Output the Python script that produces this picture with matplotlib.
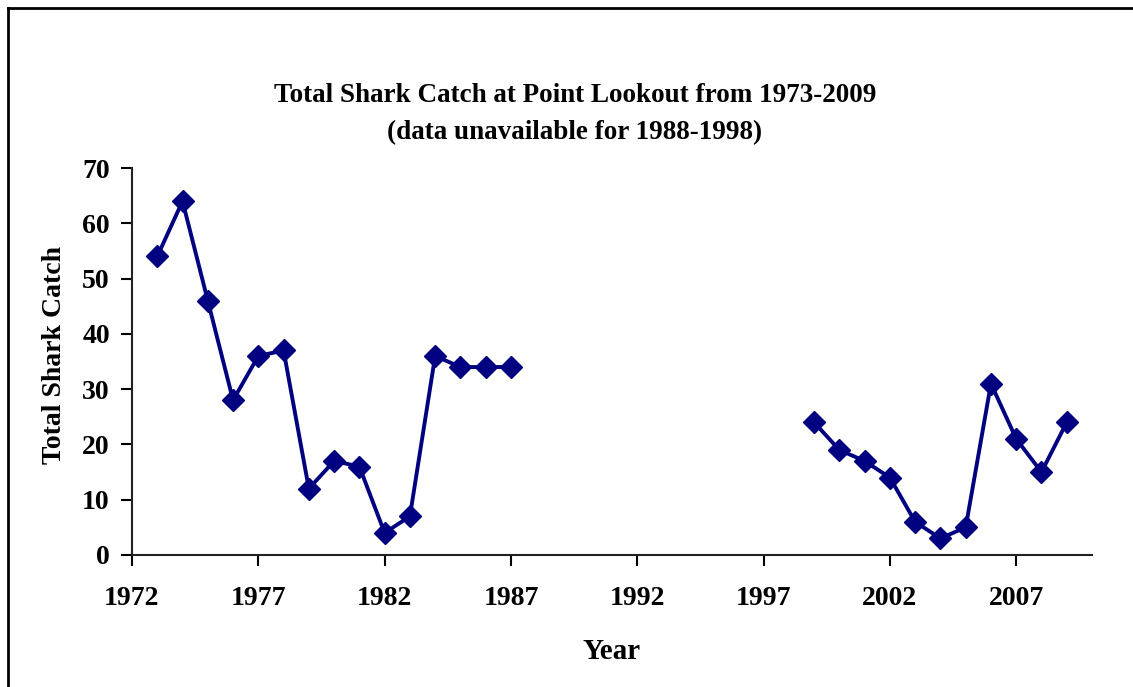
import matplotlib
matplotlib.use("Agg")
import matplotlib.pyplot as plt
import numpy as np

years_a = [1973, 1974, 1975, 1976, 1977, 1978, 1979, 1980, 1981, 1982, 1983, 1984, 1985, 1986, 1987]
catch_a = [54, 64, 46, 28, 36, 37, 12, 17, 16, 4, 7, 36, 34, 34, 34]
years_b = [1999, 2000, 2001, 2002, 2003, 2004, 2005, 2006, 2007, 2008, 2009]
catch_b = [24, 19, 17, 14, 6, 3, 5, 31, 21, 15, 24]
xticks = [1972, 1977, 1982, 1987, 1992, 1997, 2002, 2007]
yticks = [0, 10, 20, 30, 40, 50, 60, 70]

plt.rcParams['font.family'] = ['Liberation Serif', 'DejaVu Serif']
plt.rcParams['font.weight'] = 'bold'

W, H = 1133, 687
fig = plt.figure(figsize=(W / 100, H / 100), dpi=100)
ax = fig.add_axes([132 / W, 1 - 555 / H, (1092 - 132) / W, (555 - 168) / H])

color = '#000080'
for xs, ys in [(years_a, catch_a), (years_b, catch_b)]:
    ax.plot(xs, ys, color=color, linewidth=2.8, marker='D', markersize=11.5,
            markerfacecolor=color, markeredgecolor=color, clip_on=False)

ax.set_xlim(1972, 2010)
ax.set_ylim(0, 70)
ax.set_xticks(xticks)
ax.set_yticks(yticks)
ax.tick_params(axis='both', direction='out', length=8, width=1.5, labelsize=20, colors='black')
ax.tick_params(axis='x', pad=14)
ax.tick_params(axis='y', pad=8)
for lab in ax.get_xticklabels() + ax.get_yticklabels():
    lab.set_fontweight('bold')
for s in ['top', 'right']:
    ax.spines[s].set_visible(False)
for s in ['left', 'bottom']:
    ax.spines[s].set_linewidth(1.5)
    ax.spines[s].set_color('#222222')

ax.set_xlabel('Year', fontsize=21, fontweight='bold', labelpad=20)
ax.set_ylabel('Total Shark Catch', fontsize=20, fontweight='bold')
ax.yaxis.set_label_coords(67 / W, 1 - 355 / H, transform=fig.transFigure)

fig.text(575 / W, 1 - 95 / H, 'Total Shark Catch at Point Lookout from 1973-2009',
         ha='center', va='center', fontsize=19.5, fontweight='bold')
fig.text(575 / W, 1 - 133 / H, '(data unavailable for 1988-1998)',
         ha='center', va='center', fontsize=19.5, fontweight='bold')

# outer frame (left and top edges visible)
fig.add_artist(plt.Line2D([8 / W, 8 / W], [0, 1 - 8 / H], transform=fig.transFigure, color='black', linewidth=2))
fig.add_artist(plt.Line2D([8 / W, 1], [1 - 8 / H, 1 - 8 / H], transform=fig.transFigure, color='black', linewidth=2))

fig.savefig('out.png', dpi=100)
